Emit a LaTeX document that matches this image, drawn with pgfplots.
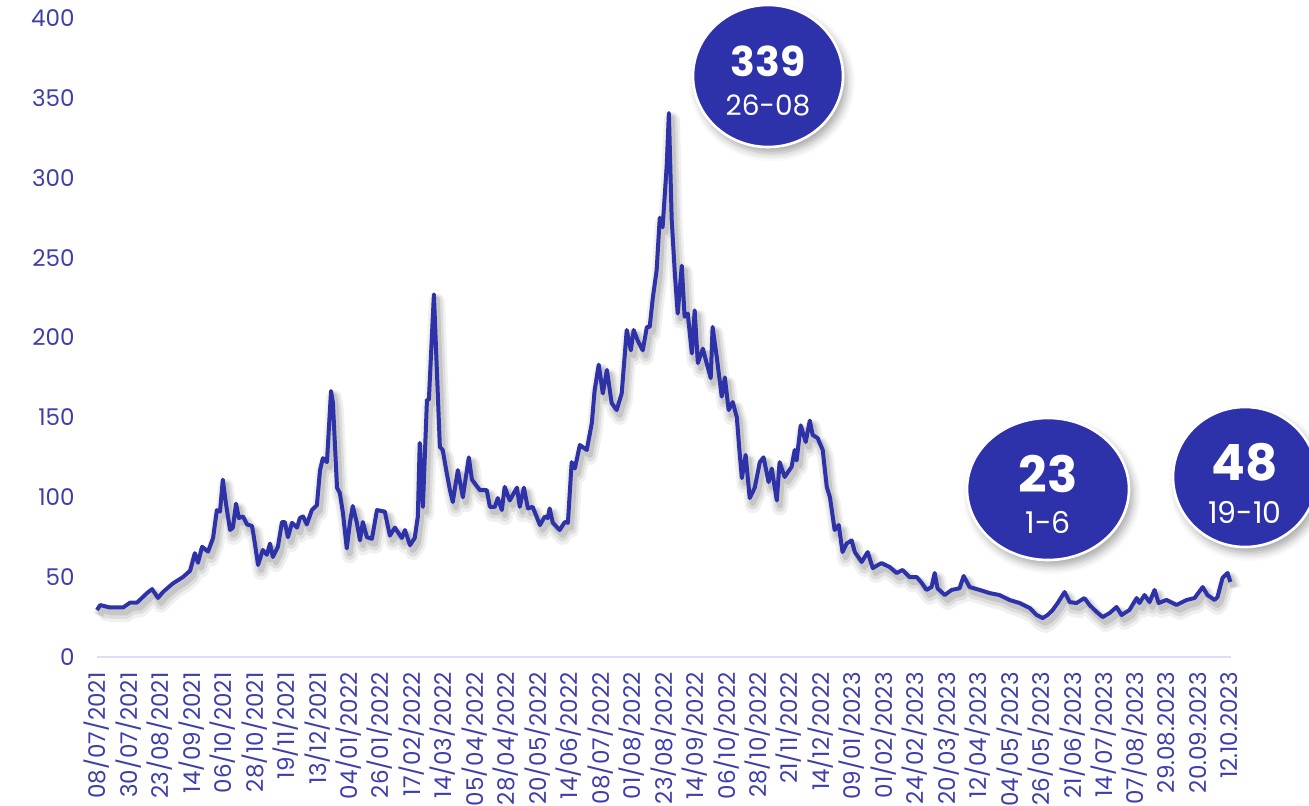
\documentclass[border=0pt]{standalone}
\usepackage{fontspec}
\setmainfont{Poppins}
\usepackage{pgfplots}
\pgfplotsset{compat=1.18}
\usepackage{pgfplotstable}
\usetikzlibrary{shadows.blur}

\definecolor{linec}{RGB}{46,50,168}
\definecolor{bubc}{RGB}{45,49,170}
\definecolor{labc}{RGB}{62,62,170}
\definecolor{axc}{RGB}{221,221,247}

\pgfplotstableread{
x y
0.00 29.4
0.10 32.5
0.41 31
0.83 31
1.05 34
1.27 34
1.59 40
1.75 42.5
1.94 37
2.10 40.7
2.41 46
2.73 50
2.96 54
3.11 65
3.21 59
3.34 69
3.53 66
3.69 74.5
3.81 92
3.91 91
4.00 111
4.10 96
4.23 79.5
4.32 81
4.42 96
4.51 87
4.64 88
4.77 83
4.93 82
5.02 71
5.12 57.6
5.27 67
5.40 64
5.50 71
5.59 62.6
5.75 69
5.88 84.5
5.97 84.5
6.07 75
6.20 84
6.36 81
6.45 87
6.55 88
6.67 83
6.83 92
6.99 95
7.09 117
7.18 124.5
7.31 122
7.44 166.5
7.50 159
7.63 106
7.72 102.6
7.82 90
7.94 68
8.04 84
8.13 94.5
8.26 84
8.36 73
8.45 84.5
8.58 75
8.74 74
8.90 92
9.15 91
9.31 76
9.47 81
9.69 74.5
9.79 79.5
9.95 70
10.10 74.5
10.20 88
10.26 134
10.36 94
10.49 161
10.55 161
10.71 227
10.90 131.5
10.99 129.6
11.12 115
11.22 104.5
11.31 97
11.47 117
11.63 100
11.82 125
11.92 111
12.17 104.5
12.39 104.5
12.49 94
12.65 94
12.74 99.5
12.87 92
12.96 106.5
13.12 98
13.35 106
13.44 94
13.57 106
13.70 93
13.85 94
14.08 82.6
14.24 88
14.33 87
14.39 93
14.49 84
14.71 79.5
14.87 84.5
14.97 84
15.09 122
15.19 118
15.35 132.7
15.57 129.6
15.73 146.5
15.82 167
15.95 183
16.08 165
16.21 179.7
16.36 159
16.52 154.6
16.68 165
16.84 204.7
16.97 192
17.06 204.7
17.19 198
17.35 192
17.48 206.6
17.57 206.6
17.67 225
17.79 242
17.89 275
17.98 269
18.11 307
18.18 340.5
18.27 273.5
18.37 240
18.46 215
18.59 245
18.68 213
18.78 215
18.91 190
19.00 217
19.10 184
19.26 193
19.38 184
19.51 174.6
19.57 206.6
19.70 188
19.86 163
19.96 175
20.08 154.6
20.21 159.6
20.34 150
20.43 127.6
20.50 112
20.62 126.5
20.75 99.5
20.91 106
21.07 122
21.19 125
21.35 109.5
21.45 118
21.61 98
21.70 122
21.86 112.7
22.08 119
22.18 129.6
22.24 123
22.37 145
22.53 134.6
22.66 148
22.75 139
22.91 137
23.07 129.6
23.20 106.4
23.30 100
23.45 79.5
23.58 82.6
23.70 65.7
23.83 71
23.99 73
24.09 65.7
24.31 59.5
24.50 65.7
24.66 55.7
24.94 58.8
25.20 56.3
25.42 52.6
25.61 54.5
25.83 50
26.06 50
26.22 46.3
26.37 42
26.53 43.8
26.63 52.6
26.72 43
26.95 38.8
27.17 42
27.42 43
27.55 50.7
27.74 43.8
28.06 42
28.38 40
28.69 38.8
29.01 35.7
29.33 33.8
29.65 30.7
29.87 26.3
30.06 24.4
30.22 26.3
30.38 29.4
30.54 33.8
30.76 40.7
30.92 34.4
31.14 33.8
31.39 36.9
31.55 32.6
31.78 28.2
31.97 25
32.19 27.5
32.41 31.3
32.57 26.3
32.82 29.4
33.05 36.9
33.14 33.8
33.30 38.8
33.46 34.4
33.62 42
33.75 33.8
34.00 35.7
34.32 32.6
34.64 35.7
34.89 36.9
35.15 43.8
35.30 38.8
35.53 35.7
35.62 37.5
35.78 49.5
35.94 52.6
36.03 47
}\spread

\begin{document}
\begin{tikzpicture}
\begin{axis}[
  at={(0,0)}, anchor=south west,
  scale only axis, width=567pt, height=319.5pt,
  xmin=0, xmax=36.05, ymin=0, ymax=400,
  axis lines*=left,
  x axis line style={draw=axc, line width=1pt},
  y axis line style={draw=none},
  major tick length=0pt,
  ytick={0,50,...,400},
  xtick={0,...,36},
  xticklabels={08/07/2021,30/07/2021,23/08/2021,14/09/2021,06/10/2021,28/10/2021,19/11/2021,13/12/2021,04/01/2022,26/01/2022,17/02/2022,14/03/2022,05/04/2022,28/04/2022,20/05/2022,14/06/2022,08/07/2022,01/08/2022,23/08/2022,14/09/2022,06/10/2022,28/10/2022,21/11/2022,14/12/2022,09/01/2023,01/02/2023,24/02/2023,20/03/2023,12/04/2023,04/05/2023,26/05/2023,21/06/2023,14/07/2023,07/08/2023,29.08.2023,20.09.2023,12.10.2023},
  tick label style={font=\fontsize{11.5}{13}\selectfont, text=labc},
  xticklabel style={yshift=-7.5pt, rotate=90, anchor=east, inner sep=0pt},
  yticklabel style={xshift=-11pt, anchor=east, inner sep=0pt},
  /pgf/number format/assume math mode=true,
  clip=false,
]
\addplot[no marks, draw=black, opacity=0.06, line width=8pt, line join=round, xshift=1.5pt, yshift=-3.5pt] table {\spread};
\addplot[no marks, draw=black, opacity=0.08, line width=5.5pt, line join=round, xshift=1.5pt, yshift=-3pt] table {\spread};
\addplot[no marks, draw=black, opacity=0.10, line width=3pt, line join=round, xshift=1.5pt, yshift=-2.5pt] table {\spread};
\addplot[no marks, draw=linec, line width=2pt, line join=round] table {\spread};
\end{axis}

% bubbles
\fill[bubc, draw=white, line width=1.3pt, blur shadow={shadow xshift=2pt, shadow yshift=-3pt, shadow blur radius=4pt, shadow opacity=35}] (335.5pt,290.5pt) ellipse [x radius=37.5pt, y radius=35.5pt];
\node[text=white, inner sep=0pt, font=\fontsize{20.5}{21}\selectfont\bfseries] at (335.5pt,298pt) {339};
\node[text=white, inner sep=0pt, font=\fontsize{14}{14}\selectfont] at (335.5pt,276pt) {26-08};

\fill[bubc, draw=white, line width=1.3pt, blur shadow={shadow xshift=2pt, shadow yshift=-3pt, shadow blur radius=4pt, shadow opacity=35}] (475.5pt,84pt) ellipse [x radius=40.5pt, y radius=35.5pt];
\node[text=white, inner sep=0pt, font=\fontsize{25}{25}\selectfont\bfseries] at (475.5pt,91.5pt) {23};
\node[text=white, inner sep=0pt, font=\fontsize{15}{15}\selectfont] at (475.5pt,67.5pt) {1-6};

\fill[bubc, draw=white, line width=1.3pt, blur shadow={shadow xshift=2pt, shadow yshift=-3pt, shadow blur radius=4pt, shadow opacity=35}] (574pt,90pt) ellipse [x radius=36pt, y radius=35pt];
\node[text=white, inner sep=0pt, font=\fontsize{25}{25}\selectfont\bfseries] at (574pt,97.5pt) {48};
\node[text=white, inner sep=0pt, font=\fontsize{15}{15}\selectfont] at (574pt,72.5pt) {19-10};

\pgfresetboundingbox
\useasboundingbox (-48.5pt,-74pt) rectangle (606pt,328.5pt);
\end{tikzpicture}
\end{document}
